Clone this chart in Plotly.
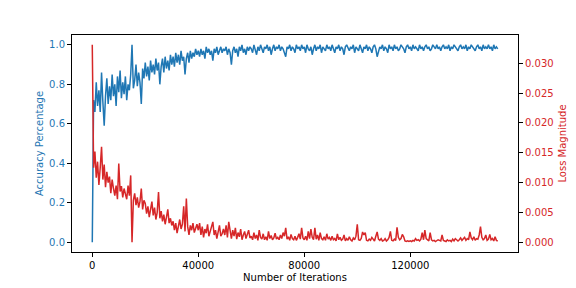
import plotly.graph_objects as go

iterations = list(range(0, 153001, 500))

accuracy = [
    0.00, 0.72, 0.66, 0.81, 0.69, 0.77, 0.66, 0.86, 0.71, 0.59, 0.74, 0.83, 0.70, 0.79, 0.72, 0.85, 0.74, 0.80, 0.69, 0.84,
    0.76, 0.87, 0.73, 0.81, 0.75, 0.84, 0.72, 0.80, 0.77, 0.85, 1.00, 0.78, 0.82, 0.90, 0.79, 0.86, 0.81, 0.70, 0.88, 0.83,
    0.91, 0.84, 0.89, 0.82, 0.92, 0.86, 0.90, 0.85, 0.93, 0.87, 0.91, 0.80, 0.89, 0.93, 0.86, 0.94, 0.88, 0.92, 0.87, 0.95,
    0.90, 0.94, 0.89, 0.96, 0.91, 0.95, 0.90, 0.97, 0.92, 0.94, 0.85, 0.93, 0.96, 0.91, 0.97, 0.93, 0.96, 0.94, 0.98, 0.95,
    0.97, 0.94, 0.98, 0.95, 0.97, 0.93, 0.99, 0.96, 0.98, 0.95, 0.97, 0.92, 0.98, 0.96, 0.99, 0.95, 0.97, 0.99, 0.96, 0.98,
    0.97, 0.99, 0.95, 0.98, 0.96, 0.90, 0.97, 0.99, 0.96, 0.98, 0.94, 0.99, 0.97, 1.00, 0.96, 0.98, 0.95, 0.99, 0.97, 0.99,
    0.98, 0.96, 1.00, 0.98, 0.95, 0.99, 0.97, 1.00, 0.98, 0.96, 0.99, 0.98, 1.00, 0.97, 0.99, 0.95, 0.98, 1.00, 0.97, 0.99,
    0.98, 1.00, 0.97, 0.99, 0.98, 0.96, 0.94, 0.99, 0.98, 1.00, 0.97, 0.99, 0.98, 0.96, 1.00, 0.98, 0.99, 0.97, 1.00, 0.98,
    0.99, 0.96, 1.00, 0.98, 0.97, 0.99, 0.95, 0.98, 1.00, 0.97, 0.99, 0.98, 1.00, 0.96, 0.99, 0.98, 0.97, 1.00, 0.98, 0.99,
    0.97, 1.00, 0.98, 0.96, 0.99, 0.98, 1.00, 0.97, 0.99, 0.98, 0.95, 0.99, 1.00, 0.98, 0.97, 0.99, 0.98, 1.00, 0.96, 0.99,
    0.98, 0.97, 1.00, 0.98, 0.96, 0.99, 0.98, 1.00, 0.97, 0.99, 0.98, 0.96, 0.99, 1.00, 0.98, 0.94, 0.97, 0.99, 0.98, 1.00,
    0.97, 0.99, 0.98, 0.96, 1.00, 0.98, 0.99, 0.97, 1.00, 0.98, 0.99, 0.97, 0.98, 1.00, 0.99, 0.98, 0.96, 0.99, 1.00, 0.98,
    0.99, 0.97, 1.00, 0.98, 0.99, 0.98, 0.97, 1.00, 0.98, 0.99, 0.97, 0.99, 1.00, 0.98, 0.99, 0.97, 0.98, 1.00, 0.99, 0.98,
    1.00, 0.98, 0.99, 0.97, 0.99, 1.00, 0.98, 0.99, 0.98, 1.00, 0.97, 0.99, 0.98, 1.00, 0.99, 0.98, 0.97, 0.99, 1.00, 0.98,
    0.99, 0.98, 1.00, 0.97, 0.99, 0.98, 1.00, 0.99, 0.98, 0.97, 0.99, 1.00, 0.98, 0.99, 0.97, 1.00, 0.98, 0.99, 0.98, 1.00,
    0.98, 0.99, 0.97, 1.00, 0.98, 0.99, 0.98,
]

loss = [
    0.0331, 0.0125, 0.0152, 0.0108, 0.0135, 0.0096, 0.0125, 0.0160, 0.0105, 0.0130, 0.0092, 0.0118, 0.0100, 0.0110, 0.0082, 0.0105, 0.0090, 0.0078, 0.0095, 0.0072,
    0.0132, 0.0085, 0.0094, 0.0075, 0.0090, 0.0080, 0.0072, 0.0095, 0.0078, 0.0112, 0.0000, 0.0070, 0.0082, 0.0062, 0.0075, 0.0058, 0.0068, 0.0090, 0.0055, 0.0070,
    0.0065, 0.0048, 0.0060, 0.0042, 0.0055, 0.0068, 0.0045, 0.0058, 0.0038, 0.0050, 0.0084, 0.0040, 0.0052, 0.0035, 0.0046, 0.0030, 0.0042, 0.0055, 0.0032, 0.0040,
    0.0028, 0.0035, 0.0020, 0.0032, 0.0015, 0.0025, 0.0038, 0.0022, 0.0030, 0.0060, 0.0018, 0.0073, 0.0026, 0.0012, 0.0028, 0.0020, 0.0032, 0.0016, 0.0024, 0.0030,
    0.0020, 0.0032, 0.0012, 0.0026, 0.0008, 0.0022, 0.0015, 0.0030, 0.0010, 0.0018, 0.0025, 0.0034, 0.0012, 0.0020, 0.0006, 0.0016, 0.0028, 0.0010, 0.0014, 0.0022,
    0.0012, 0.0028, 0.0008, 0.0034, 0.0015, 0.0006, 0.0020, 0.0010, 0.0024, 0.0005, 0.0016, 0.0009, 0.0022, 0.0004, 0.0012, 0.0018, 0.0006, 0.0014, 0.0020, 0.0007,
    0.0010, 0.0004, 0.0016, 0.0006, 0.0012, 0.0003, 0.0020, 0.0008, 0.0005, 0.0014, 0.0004, 0.0009, 0.0003, 0.0018, 0.0006, 0.0011, 0.0004, 0.0007, 0.0015, 0.0005,
    0.0008, 0.0004, 0.0012, 0.0006, 0.0016, 0.0010, 0.0024, 0.0005, 0.0009, 0.0003, 0.0013, 0.0006, 0.0004, 0.0010, 0.0003, 0.0008, 0.0014, 0.0005, 0.0024, 0.0007,
    0.0004, 0.0010, 0.0003, 0.0018, 0.0006, 0.0022, 0.0008, 0.0004, 0.0024, 0.0005, 0.0012, 0.0003, 0.0016, 0.0006, 0.0004, 0.0009, 0.0003, 0.0014, 0.0005, 0.0008,
    0.0003, 0.0010, 0.0004, 0.0006, 0.0002, 0.0014, 0.0004, 0.0008, 0.0003, 0.0005, 0.0012, 0.0002, 0.0006, 0.0003, 0.0009, 0.0004, 0.0002, 0.0007, 0.0004, 0.0010,
    0.0030, 0.0004, 0.0003, 0.0006, 0.0017, 0.0012, 0.0016, 0.0003, 0.0002, 0.0005, 0.0003, 0.0008, 0.0004, 0.0002, 0.0010, 0.0017, 0.0005, 0.0003, 0.0006, 0.0002,
    0.0003, 0.0006, 0.0002, 0.0004, 0.0008, 0.0018, 0.0003, 0.0002, 0.0005, 0.0003, 0.0025, 0.0008, 0.0004, 0.0006, 0.0013, 0.0009, 0.0002, 0.0001, 0.0002, 0.0001,
    0.0002, 0.0001, 0.0003, 0.0002, 0.0006, 0.0003, 0.0004, 0.0002, 0.0005, 0.0016, 0.0004, 0.0020, 0.0006, 0.0003, 0.0002, 0.0016, 0.0004, 0.0002, 0.0003, 0.0001,
    0.0002, 0.0004, 0.0003, 0.0002, 0.0012, 0.0003, 0.0002, 0.0001, 0.0004, 0.0002, 0.0003, 0.0001, 0.0005, 0.0002, 0.0006, 0.0003, 0.0002, 0.0004, 0.0007, 0.0003,
    0.0005, 0.0008, 0.0003, 0.0006, 0.0004, 0.0017, 0.0007, 0.0004, 0.0009, 0.0003, 0.0006, 0.0005, 0.0012, 0.0026, 0.0008, 0.0004, 0.0006, 0.0012, 0.0003, 0.0005,
    0.0013, 0.0004, 0.0006, 0.0002, 0.0009, 0.0003, 0.0002,
]

x_ticks = [0, 40000, 80000, 120000]
acc_ticks = [0.0, 0.2, 0.4, 0.6, 0.8, 1.0]
loss_ticks = [0.000, 0.005, 0.010, 0.015, 0.020, 0.025, 0.030]

BLUE = "#1f77b4"
RED = "#d62728"
FONT = "DejaVu Sans"

fig = go.Figure()
fig.add_trace(go.Scatter(x=iterations, y=accuracy, mode="lines",
                         line=dict(color=BLUE, width=1.5), yaxis="y", showlegend=False))
fig.add_trace(go.Scatter(x=iterations, y=loss, mode="lines",
                         line=dict(color=RED, width=1.5), yaxis="y2", showlegend=False))

xmax = iterations[-1]
ymin2, ymax2 = min(loss), max(loss)
span2 = ymax2 - ymin2

fig.update_layout(
    width=576, height=288,
    margin=dict(l=72, r=58, t=35, b=36, autoexpand=False),
    paper_bgcolor="white", plot_bgcolor="white",
    font=dict(family=FONT, size=10, color="black"),
    xaxis=dict(
        range=[-0.05 * xmax, 1.05 * xmax], automargin=False,
        tickvals=x_ticks, ticktext=[str(v) for v in x_ticks],
        ticks="outside", ticklen=4, tickwidth=1, tickcolor="black",
        showline=True, linecolor="black", linewidth=1, mirror=True,
        showgrid=False, zeroline=False,
        title=dict(text="Number of Iterations", font=dict(size=10, color="black"), standoff=3),
        tickfont=dict(size=10, color="black"),
    ),
    yaxis=dict(
        range=[-0.05, 1.05], automargin=False,
        tickvals=acc_ticks, ticktext=[f"{v:.1f}" for v in acc_ticks],
        ticks="outside", ticklen=4, tickwidth=1, tickcolor="black",
        showline=True, linecolor="black", linewidth=1,
        showgrid=False, zeroline=False,
        tickfont=dict(size=10, color=BLUE),
        title=dict(text="Accuracy Percentage", font=dict(size=10, color=BLUE), standoff=3),
    ),
    yaxis2=dict(
        overlaying="y", side="right", automargin=False,
        range=[ymin2 - 0.05 * span2, ymax2 + 0.05 * span2],
        tickvals=loss_ticks, ticktext=[f"{v:.3f}" for v in loss_ticks],
        ticks="outside", ticklen=4, tickwidth=1, tickcolor="black",
        showline=True, linecolor="black", linewidth=1,
        showgrid=False, zeroline=False,
        tickfont=dict(size=10, color=RED),
        title=dict(text="Loss Magnitude", font=dict(size=10, color=RED), standoff=6),
    ),
)

fig.write_html("out.html", config={"displayModeBar": False},
               post_script="document.body.style.margin='0';document.body.style.padding='0';")
